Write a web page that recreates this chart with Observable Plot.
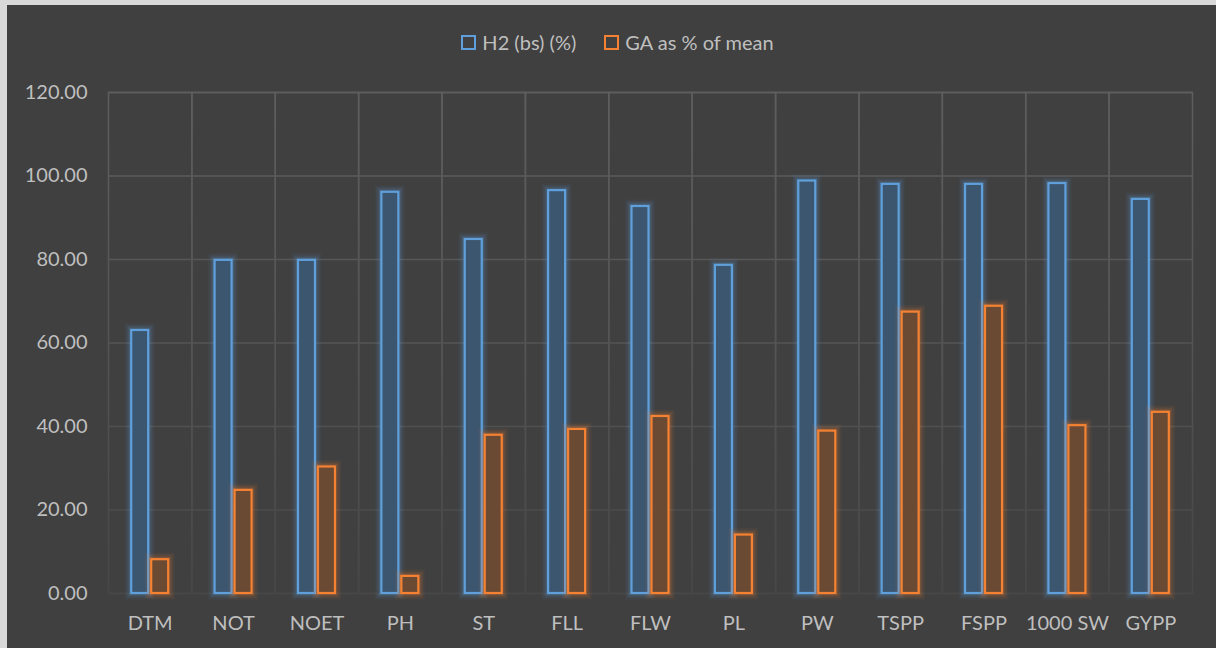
<!DOCTYPE html>
<html>
<head>
<meta charset="utf-8">
<script src="https://cdn.jsdelivr.net/npm/d3@7"></script>
<script src="https://cdn.jsdelivr.net/npm/@observablehq/plot@0.6"></script>
<style>
  html, body { margin: 0; padding: 0; background: #d9d9d9; width: 1216px; height: 648px; overflow: hidden; }
  #wrap { position: absolute; left: 7px; top: 5px; width: 1209px; height: 643px; background: #404040; font-family: Lato, "Open Sans", sans-serif; }
  #legend { position: absolute; top: 0; left: 0; width: 1209px; height: 74px; display: flex; justify-content: center; align-items: center; padding-left: 12px; box-sizing: border-box; color: #bfbfbf; font-size: 20px; }
  .item { display: flex; align-items: center; margin: 0 14px; }
  .sw { width: 11px; height: 11px; border: 2px solid; margin-right: 6px; }
  #chart { position: absolute; left: 0; top: 57px; }
</style>
</head>
<body>
<div id="wrap">
  <div id="legend"></div>
  <div id="chart"></div>
</div>
<script>
const categories = ["DTM","NOT","NOET","PH","ST","FLL","FLW","PL","PW","TSPP","FSPP","1000 SW","GYPP"];
const h2Values = [63.0,79.8,79.8,96.1,84.8,96.5,92.7,78.6,98.8,98.0,98.0,98.2,94.4];
const gaValues = [8.1,24.7,30.3,4.1,37.9,39.3,42.4,14.0,38.9,67.4,68.8,40.2,43.4];
const seriesNames = ["H2 (bs) (%)","GA as % of mean"];
const yTicks = [0,20,40,60,80,100,120];

const strokeColors = ["#5fa0dc","#f58233"];
const fillColors = ["#3c5670","#6a4a33"];

const data = categories.flatMap((c, i) => [
  {cat: c, series: seriesNames[0], value: h2Values[i]},
  {cat: c, series: seriesNames[1], value: gaValues[i]}
]);

// legend
const legend = d3.select("#legend");
seriesNames.forEach((s, i) => {
  const it = legend.append("div").attr("class", "item");
  it.append("div").attr("class", "sw").style("border-color", strokeColors[i]);
  it.append("span").text(s);
});

const glowLayers = [[13, 0.05], [10, 0.07], [7, 0.1], [4.5, 0.14]];
const barMarks = seriesNames.flatMap((s, i) => {
  const d = data.filter(r => r.series === s);
  return [
    ...glowLayers.map(([w, o]) => Plot.barY(d, {fx: "cat", x: "series", y: "value", fill: "none", stroke: strokeColors[i], strokeWidth: w, strokeOpacity: o})),
    Plot.barY(d, {fx: "cat", x: "series", y: "value", fill: fillColors[i], stroke: strokeColors[i], strokeWidth: 2.2})
  ];
});

const chart = Plot.plot({
  width: 1209,
  height: 586,
  marginTop: 30,
  marginBottom: 55,
  marginLeft: 101,
  marginRight: 24,
  style: {background: "transparent", color: "#bfbfbf", fontSize: "20px", fontFamily: "Lato, 'Open Sans', sans-serif"},
  fx: {domain: categories, padding: 0, round: false, label: null, axis: "bottom", tickSize: 0, tickPadding: 22},
  x: {domain: seriesNames, paddingInner: 0.15, paddingOuter: 1.16, round: false, axis: null},
  y: {domain: [0, 120], ticks: yTicks, tickFormat: d3.format(".2f"), tickSize: 0, tickPadding: 21, label: null},
  marks: [
    Plot.ruleY(yTicks, {stroke: "url(#gridfade)", strokeWidth: 1.5}),
    Plot.frame({stroke: "url(#gridfade)", strokeWidth: 1.5}),
    ...barMarks
  ]
});

const svg = d3.select(chart);
const defs = svg.insert("defs", ":first-child");
const grad = defs.append("linearGradient").attr("id", "gridfade")
  .attr("gradientUnits", "userSpaceOnUse")
  .attr("x1", 0).attr("x2", 0).attr("y1", 30).attr("y2", 531);
grad.append("stop").attr("offset", "0%").attr("stop-color", "#5e5e5e");
grad.append("stop").attr("offset", "55%").attr("stop-color", "#535353");
grad.append("stop").attr("offset", "100%").attr("stop-color", "#474747");

document.getElementById("chart").appendChild(chart);
</script>
</body>
</html>
